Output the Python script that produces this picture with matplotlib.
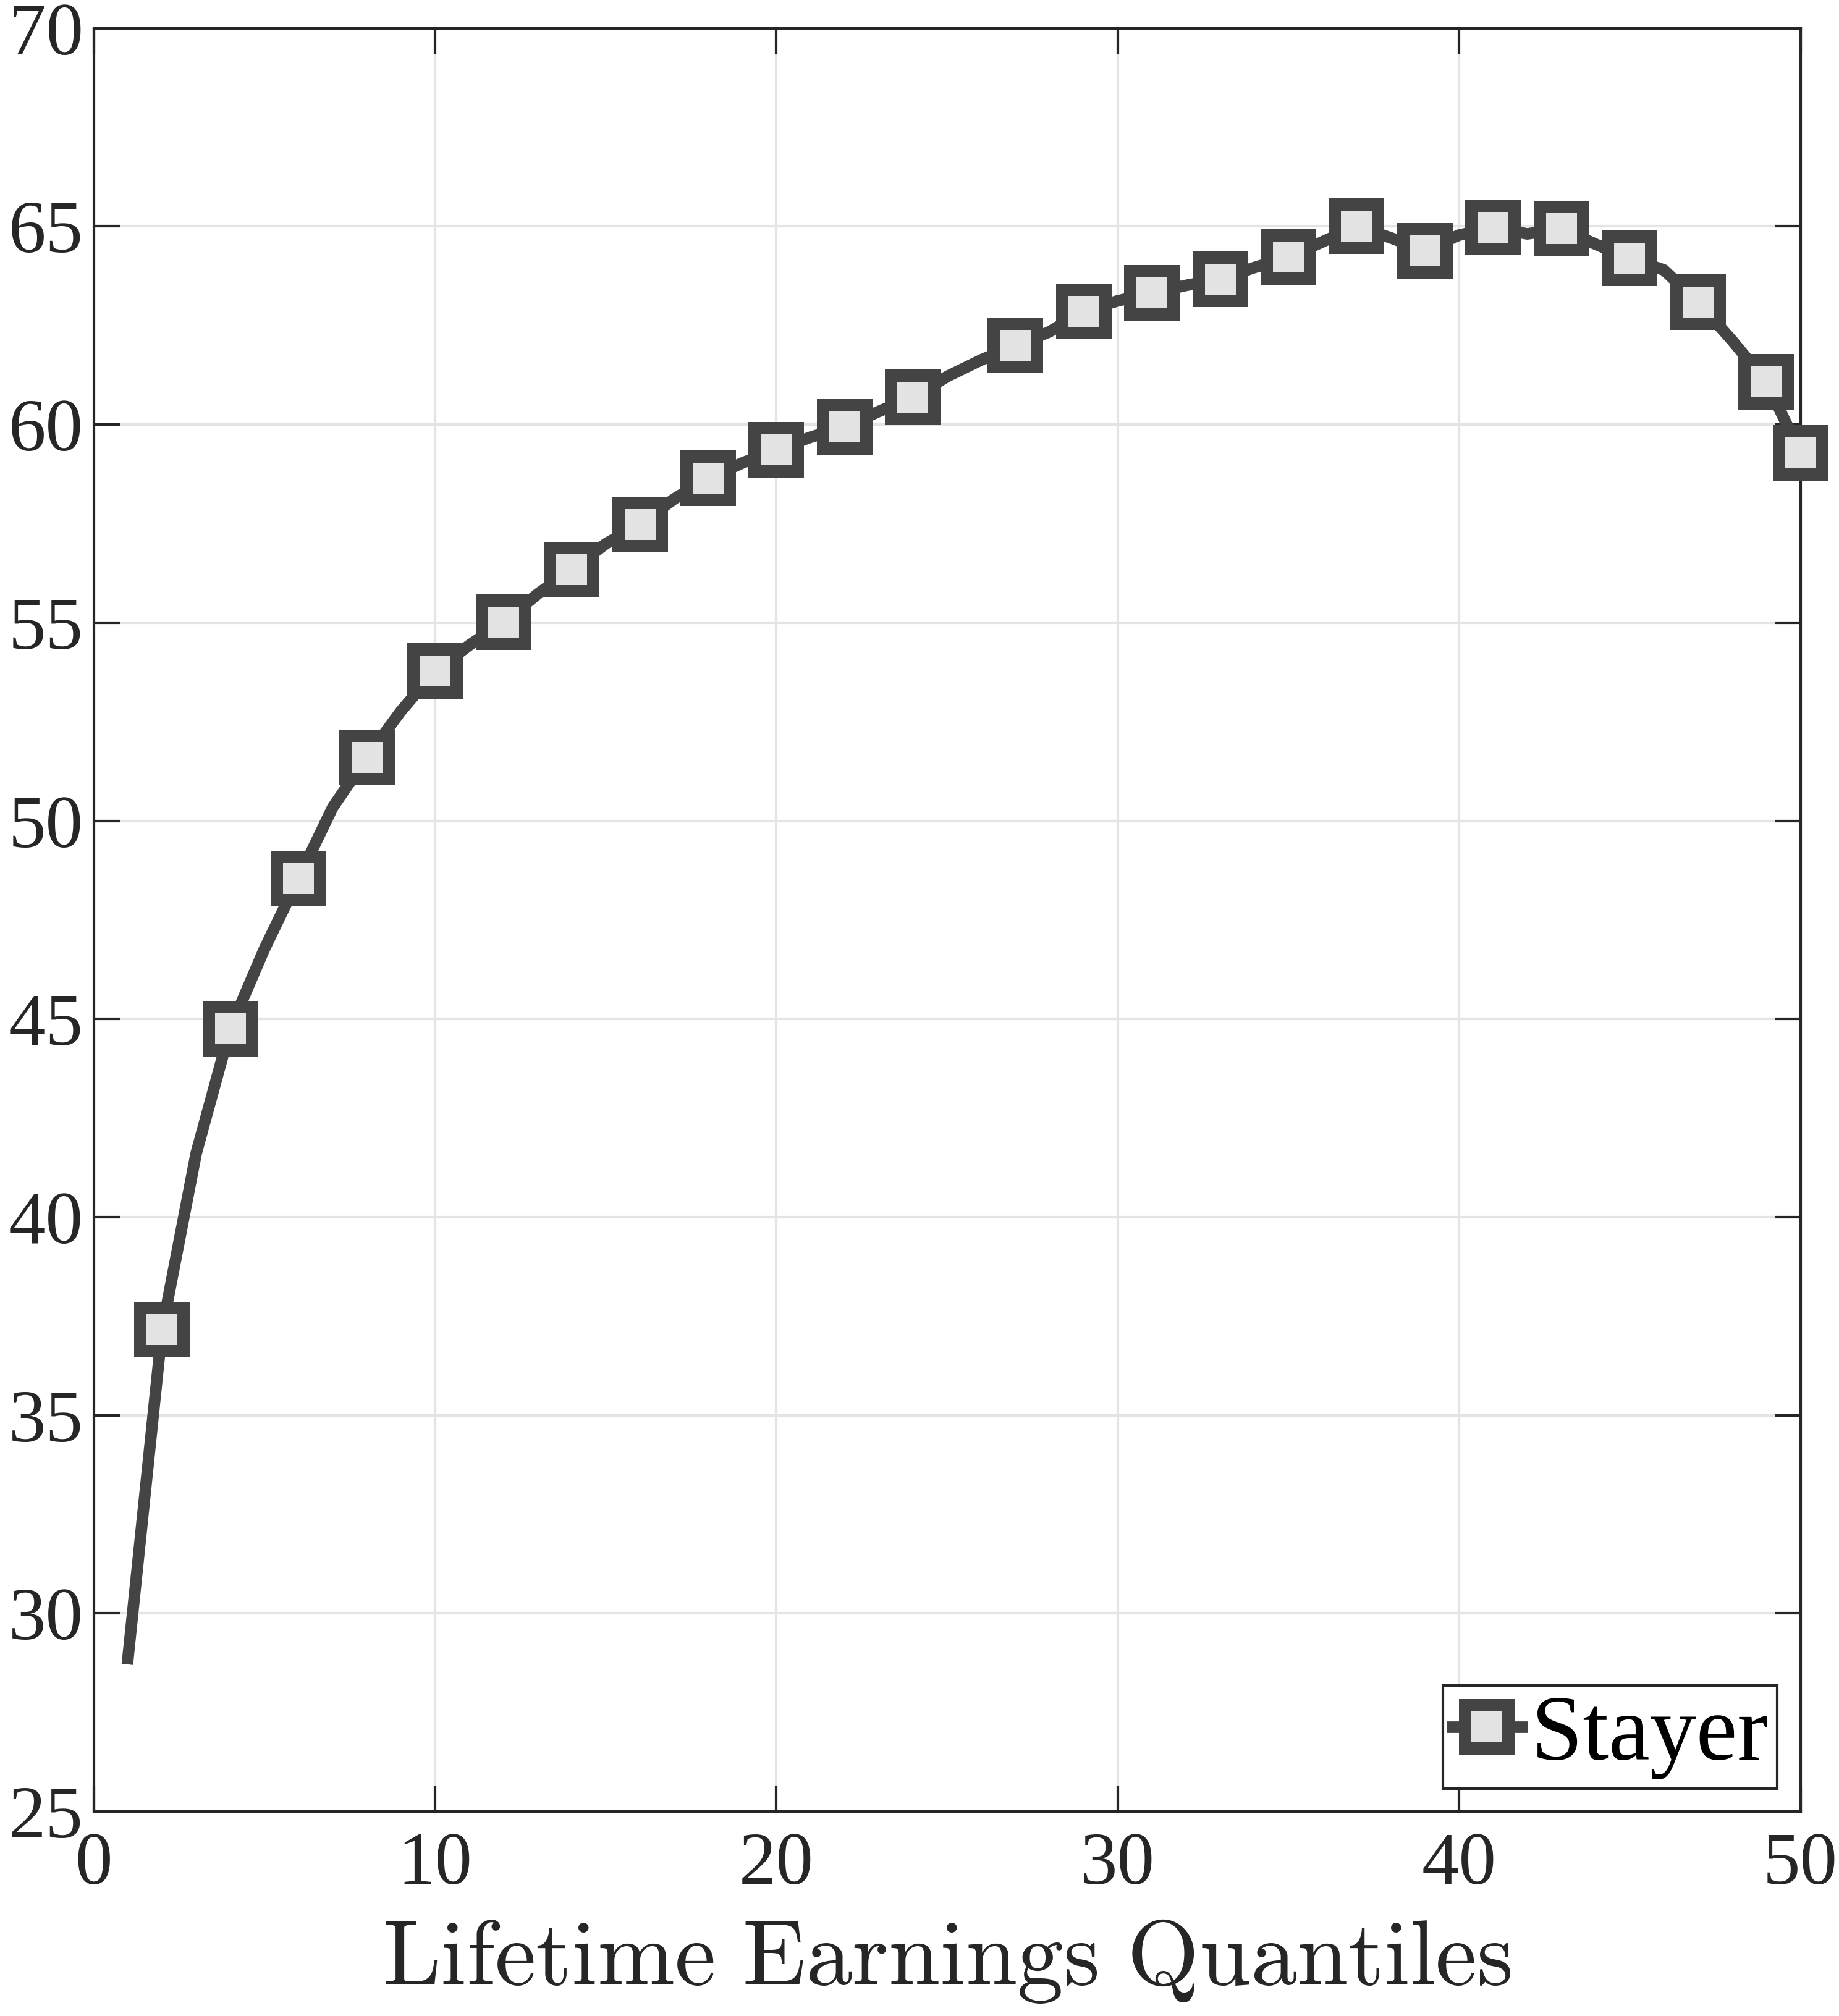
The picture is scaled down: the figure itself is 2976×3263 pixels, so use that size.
import matplotlib.pyplot as plt

# quantile index and value
quantiles = list(range(1, 51))
stayer = [28.86, 37.16, 41.61, 44.76, 46.77, 48.55, 50.34, 51.60, 52.77, 53.78,
          54.43, 55.01, 55.72, 56.34, 56.99, 57.48, 58.12, 58.64, 59.03, 59.36,
          59.68, 59.94, 60.33, 60.69, 61.21, 61.63, 61.99, 62.34, 62.86, 63.12,
          63.32, 63.51, 63.67, 63.96, 64.22, 64.61, 65.00, 64.71, 64.39, 64.78,
          64.97, 64.81, 64.94, 64.55, 64.19, 63.90, 63.09, 62.12, 61.08, 59.29]
# positions (in quantiles) that carry a marker
marker_at = [2, 4, 6, 8, 10, 12, 14, 16, 18, 20, 22, 24,
             27, 29, 31, 33, 35, 37, 39, 41, 43, 45, 47, 49, 50]

plt.rcParams['mathtext.fontset'] = 'cm'
serif = ['Liberation Serif', 'DejaVu Serif']

fig = plt.figure(figsize=(2976 / 300, 3263 / 300), dpi=300)
ax = fig.add_axes([0.051, 0.1014, 0.928, 0.8846])

idx = [quantiles.index(q) for q in marker_at]
ax.plot(quantiles, stayer, color='#444444', lw=4.5, marker='s', markevery=idx,
        ms=17, mew=4.8, mfc='#e3e3e3', mec='#444444', label='Stayer',
        solid_joinstyle='round', clip_on=False, zorder=3)

ax.set_xlim(0, 50)
ax.set_ylim(25, 70)
ax.set_xticks(range(0, 51, 10))
ax.set_yticks(range(25, 71, 5))
ax.grid(True, color='#e4e4e4', lw=1.0)
ax.set_axisbelow(True)
ax.tick_params(direction='in', length=10, width=1.0, top=True, right=True,
               colors='#262626', labelsize=29, pad=8)
ax.tick_params(axis='y', pad=4)
for lbl in ax.get_xticklabels() + ax.get_yticklabels():
    lbl.set_family(serif)
for s in ax.spines.values():
    s.set_color('#262626')
    s.set_linewidth(1.0)

ax.set_xlabel(r'$\mathrm{Lifetime\ Earnings\ Quantiles}$', fontsize=36,
              color='#262626', labelpad=6)

leg = ax.legend(loc='lower right', prop={'family': serif, 'size': 36},
                handlelength=0.75, handletextpad=0.1, borderpad=0.1,
                fancybox=False, framealpha=1, edgecolor='#262626',
                borderaxespad=0.25)
leg.get_frame().set_linewidth(1.0)

fig.savefig('out.png', dpi=300)
